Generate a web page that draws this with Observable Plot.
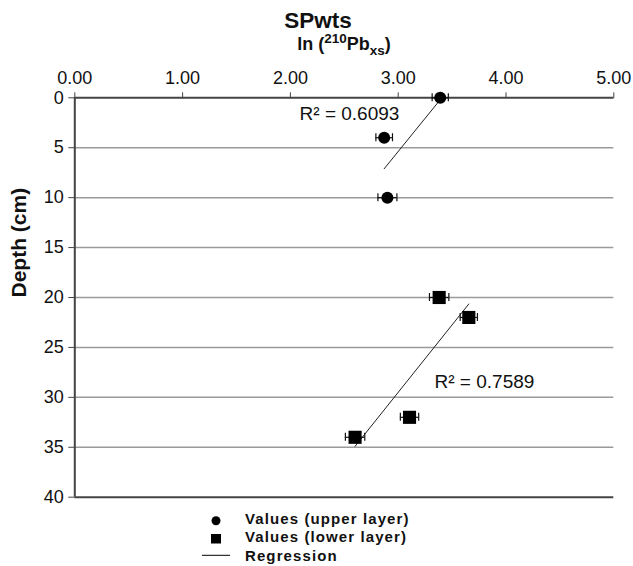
<!DOCTYPE html>
<html><head><meta charset="utf-8">
<script src="https://cdn.jsdelivr.net/npm/d3@7"></script>
<script src="https://cdn.jsdelivr.net/npm/@observablehq/plot@0.6"></script>
<style>
body{margin:0;background:#fff;font-family:"Liberation Sans",Arial,sans-serif;}
#wrap{width:633px;height:566px;overflow:hidden;background:#fff}
svg{display:block}
</style></head><body><div id="wrap"></div>
<script>
const xTicks = [0, 1, 2, 3, 4, 5];
const yTicks = [0, 5, 10, 15, 20, 25, 30, 35, 40];
const gridDepths = [5, 10, 15, 20, 25, 30, 35];
const upperLn = [3.39, 2.87, 2.90];
const upperDepth = [0, 4, 10];
const upperErr = [0.075, 0.077, 0.088];
const lowerLn = [3.38, 3.655, 3.105, 2.60];
const lowerDepth = [20, 22, 32, 34];
const lowerErr = [0.09, 0.08, 0.085, 0.09];
const r2Labels = ["R\u00B2 = 0.6093", "R\u00B2 = 0.7589"];
const r2Ln = [2.085, 3.337];
const r2Depth = [1.59, 28.46];
const legendLabels = ["Values (upper layer)", "Values (lower layer)", "Regression"];
const titleText = "SPwts";
const yLabel = "Depth (cm)";

const upper = upperLn.map((x, i) => ({x, depth: upperDepth[i], e: upperErr[i]}));
const lower = lowerLn.map((x, i) => ({x, depth: lowerDepth[i], e: lowerErr[i]}));
const all = upper.concat(lower);
const r2 = r2Labels.map((t, i) => ({t, x: r2Ln[i], depth: r2Depth[i]}));

const wrap = document.getElementById("wrap");

// Title block
const title = d3.create("svg").attr("width", 633).attr("height", 62)
  .style("font-family", '"Liberation Sans", Arial, sans-serif').attr("fill", "#111");
title.append("text").attr("x", 318).attr("y", 27.5).attr("text-anchor", "middle")
  .attr("font-size", 22.5).attr("font-weight", "bold").text(titleText);
const t2 = title.append("text").attr("x", 344).attr("y", 50).attr("text-anchor", "middle")
  .attr("font-size", 18).attr("font-weight", "bold");
t2.append("tspan").text("ln (");
t2.append("tspan").attr("font-size", 13.5).attr("dy", -7).text("210");
t2.append("tspan").attr("dy", 7).text("Pb");
t2.append("tspan").attr("font-size", 13.5).attr("dy", 5).text("xs");
t2.append("tspan").attr("dy", -5).text(")");
wrap.appendChild(title.node());

const axisColor = "#444";
const chart = Plot.plot({
  width: 633,
  height: 449,
  marginTop: 35.3,
  marginBottom: 14.3,
  marginLeft: 74.3,
  marginRight: 19.7,
  style: {fontFamily: '"Liberation Sans", Arial, sans-serif', color: "#111", background: "#fff"},
  x: {domain: [0, 5]},
  y: {domain: [0, 40], reverse: true},
  marks: [
    Plot.ruleY(gridDepths, {stroke: "#9a9a9a", strokeWidth: 1.5}),
    Plot.ruleY([0, 40], {stroke: axisColor, strokeWidth: 2}),
    Plot.ruleX([0], {stroke: axisColor, strokeWidth: 2}),
    Plot.axisX({anchor: "top", ticks: xTicks, tickFormat: d => d.toFixed(2), tickSize: 6, tickPadding: 8, fontSize: 18, label: null, stroke: axisColor}),
    Plot.axisY({anchor: "left", ticks: yTicks, tickSize: 6, tickPadding: 5, fontSize: 18, label: null, stroke: axisColor}),
    Plot.text([yLabel], {frameAnchor: "left", rotate: -90, dx: -56, fontSize: 21, fontWeight: "bold", fill: "#111"}),
    Plot.linearRegressionY(upper, {x: "x", y: "depth", stroke: "#222", strokeWidth: 1, ci: 0}),
    Plot.linearRegressionY(lower, {x: "x", y: "depth", stroke: "#222", strokeWidth: 1, ci: 0}),
    Plot.ruleY(all, {y: "depth", x1: d => d.x - d.e, x2: d => d.x + d.e, stroke: "#111", strokeWidth: 1.2}),
    Plot.ruleX(all, {x: d => d.x - d.e, y1: "depth", y2: "depth", insetTop: -4, insetBottom: -4, stroke: "#111", strokeWidth: 1.2}),
    Plot.ruleX(all, {x: d => d.x + d.e, y1: "depth", y2: "depth", insetTop: -4, insetBottom: -4, stroke: "#111", strokeWidth: 1.2}),
    Plot.dot(upper, {x: "x", y: "depth", r: 6, fill: "#000", symbol: "circle"}),
    Plot.dot(lower, {x: "x", y: "depth", r: 7.4, fill: "#000", symbol: "square"}),
    Plot.text(r2, {x: "x", y: "depth", text: "t", textAnchor: "start", fontSize: 19, fill: "#111"})
  ]
});
wrap.appendChild(chart);

// Legend block
const leg = d3.create("svg").attr("width", 633).attr("height", 55)
  .style("font-family", '"Liberation Sans", Arial, sans-serif');
leg.append("circle").attr("cx", 216).attr("cy", 9.7).attr("r", 4.5).attr("fill", "#000");
leg.append("rect").attr("x", 211).attr("y", 23).attr("width", 10).attr("height", 9.5).attr("fill", "#000");
leg.append("line").attr("x1", 202).attr("x2", 230).attr("y1", 44.3).attr("y2", 44.3).attr("stroke", "#000").attr("stroke-width", 1);
const baselines = [13.3, 31.3, 49.5];
legendLabels.forEach((t, i) => {
  leg.append("text").attr("x", 245).attr("y", baselines[i]).attr("font-size", 15)
    .attr("font-weight", "bold").attr("letter-spacing", 1.1).attr("fill", "#111").text(t);
});
wrap.appendChild(leg.node());
</script></body></html>
